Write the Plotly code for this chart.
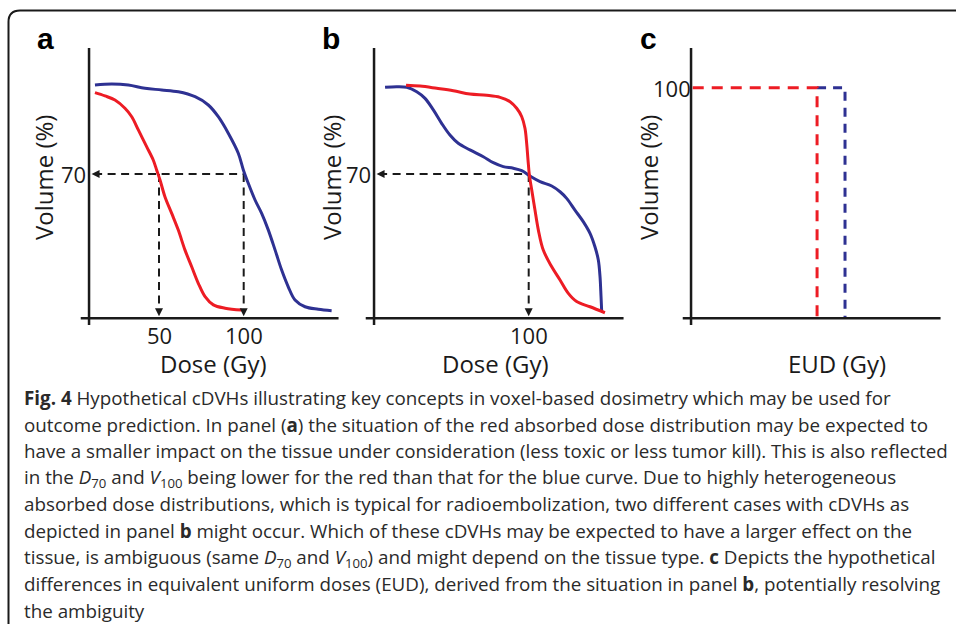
import plotly.graph_objects as go

W, H = 956, 624

# ---------------- data ----------------
# Panel a: cumulative DVHs (dose in Gy, volume in %)
a_blue_dose = [12.2, 22.1, 31.9, 41.7, 51.6, 61.4, 71.3, 79.1, 85.0, 90.9, 96.8, 99.8, 102.7,
               106.7, 110.6, 114.5, 118.5, 122.4, 126.3, 130.3, 136.2, 144.0, 151.9]
a_blue_vol = [113.2, 113.7, 113.2, 111.6, 110.8, 109.9, 107.5, 103.5, 97.8, 89.8, 80.1, 72.0, 65.5,
              57.4, 50.9, 42.9, 33.2, 23.4, 15.3, 8.9, 5.6, 4.4, 3.7]
a_red_dose = [12.2, 18.1, 24.0, 29.9, 33.9, 37.8, 42.7, 46.6, 48.6, 50.6, 53.5, 57.5, 61.4,
              65.3, 69.3, 73.2, 77.2, 82.1, 89.0, 98.8]
a_red_vol = [109.5, 107.9, 105.9, 101.9, 97.8, 91.4, 83.3, 76.8, 72.0, 67.1, 59.0, 50.9, 42.8,
             33.2, 25.0, 17.0, 10.5, 6.5, 4.9, 4.0]

# Panel b
b_blue_dose = [15.2, 22.1, 28.0, 33.9, 38.8, 43.7, 48.6, 53.5, 58.4, 65.3, 73.2, 79.1, 85.0, 90.9,
               95.9, 100.8, 106.7, 113.6, 118.5, 122.4, 127.3, 132.2, 136.2, 139.1, 141.1, 142.1,
               142.7, 143.1]
b_blue_vol = [112.1, 112.4, 112.1, 109.9, 106.7, 101.1, 94.6, 88.9, 84.9, 81.7, 78.4, 75.5, 73.6, 72.8,
              71.6, 69.0, 66.3, 64.2, 61.4, 58.2, 52.5, 46.9, 41.2, 34.7, 28.3, 20.2, 10.5, 3.2]
b_red_dose = [27.6, 35.9, 45.7, 55.5, 65.3, 75.2, 83.1, 89.0, 92.9, 95.9, 97.8, 98.8, 99.6, 100.4,
              101.8, 103.7, 105.7, 108.6, 113.6, 118.5, 123.4, 128.3, 136.2, 145.0]
b_red_vol = [113.1, 112.7, 111.6, 110.4, 108.8, 108.2, 107.2, 105.1, 101.9, 97.8, 92.2, 84.9, 76.8, 69.5,
             62.2, 52.5, 42.8, 33.1, 25.0, 18.6, 12.1, 8.1, 5.6, 2.7]

# reference levels
v_ref = 70
a_d70_red, a_d70_blue = 50, 100
b_d70 = 100

# Panel c: equivalent uniform doses
eud_red, eud_blue = 83.1, 99.6
c_vol = 100

tick_a = [50, 100]
tick_b = [100]

# ---------------- styling / layout helpers ----------------
RED = "#ED1C24"
BLUE = "#2E3192"
BLACK = "#1a1a1a"
AX0 = 8.7          # dose at which the y axis crosses
XR = [0, 165]
K_X = 1.694        # px per Gy
K_Y_AB = 2.061     # px per % (panels a, b)
K_Y_C = 2.306      # px per % (panel c)
Y0_PX = 318.3


def xdom(px_zero):
    return [(px_zero + K_X * XR[0]) / W, min(1.0, (px_zero + K_X * XR[1]) / W)]


def ydom(k, r):
    return [1 - (Y0_PX - k * r[0]) / H, 1 - (Y0_PX - k * r[1]) / H]


YR_AB = [-15, 140]
YR_C = [-15, 125]

fig = go.Figure()

dash = "8px,5.5px"

# Panel a dashed guides
fig.add_trace(go.Scatter(x=[AX0 + 3, a_d70_blue], y=[v_ref, v_ref], mode="lines",
                         line=dict(color=BLACK, width=2, dash=dash), xaxis="x", yaxis="y"))
for d in [a_d70_red, a_d70_blue]:
    fig.add_trace(go.Scatter(x=[d, d], y=[v_ref, 3], mode="lines",
                             line=dict(color=BLACK, width=2, dash=dash), xaxis="x", yaxis="y"))
# Panel a curves
fig.add_trace(go.Scatter(x=a_blue_dose, y=a_blue_vol, mode="lines", line=dict(color=BLUE, width=3, shape="spline"),
                         xaxis="x", yaxis="y"))
fig.add_trace(go.Scatter(x=a_red_dose, y=a_red_vol, mode="lines", line=dict(color=RED, width=3, shape="spline"),
                         xaxis="x", yaxis="y"))

# Panel b dashed guides
fig.add_trace(go.Scatter(x=[AX0 + 3, b_d70], y=[v_ref, v_ref], mode="lines",
                         line=dict(color=BLACK, width=2, dash=dash), xaxis="x2", yaxis="y2"))
fig.add_trace(go.Scatter(x=[b_d70, b_d70], y=[v_ref, 3], mode="lines",
                         line=dict(color=BLACK, width=2, dash=dash), xaxis="x2", yaxis="y2"))
fig.add_trace(go.Scatter(x=b_blue_dose, y=b_blue_vol, mode="lines", line=dict(color=BLUE, width=3, shape="spline"),
                         xaxis="x2", yaxis="y2"))
fig.add_trace(go.Scatter(x=b_red_dose, y=b_red_vol, mode="lines", line=dict(color=RED, width=3, shape="spline"),
                         xaxis="x2", yaxis="y2"))

# Arrow heads as markers (tip at the data point)
fig.add_trace(go.Scatter(x=[AX0 + 1.5], y=[v_ref], mode="markers", xaxis="x", yaxis="y",
                         marker=dict(symbol="arrow-left", size=8, color=BLACK)))
fig.add_trace(go.Scatter(x=[AX0 + 1.5], y=[v_ref], mode="markers", xaxis="x2", yaxis="y2",
                         marker=dict(symbol="arrow-left", size=8, color=BLACK)))
fig.add_trace(go.Scatter(x=[a_d70_red, a_d70_blue], y=[1.0, 1.0], mode="markers", xaxis="x", yaxis="y",
                         marker=dict(symbol="arrow-down", size=8, color=BLACK)))
fig.add_trace(go.Scatter(x=[b_d70], y=[1.0], mode="markers", xaxis="x2", yaxis="y2",
                         marker=dict(symbol="arrow-down", size=8, color=BLACK)))

# Panel c EUD step lines
fig.add_trace(go.Scatter(x=[eud_red, eud_blue, eud_blue], y=[c_vol, c_vol, 0], mode="lines",
                         line=dict(color=BLUE, width=3, dash="9px,7px"), xaxis="x3", yaxis="y3"))
fig.add_trace(go.Scatter(x=[AX0 + 1, eud_red, eud_red], y=[c_vol, c_vol, 0], mode="lines",
                         line=dict(color=RED, width=3, dash="11px,8px"), xaxis="x3", yaxis="y3"))

# Axis lines (cross-shaped, drawn in data coordinates)
shapes = []
for xa, ya, k in [("x", "y", K_Y_AB), ("x2", "y2", K_Y_AB), ("x3", "y3", K_Y_C)]:
    ytop = (Y0_PX - 48) / k
    ybot = (Y0_PX - 325) / k
    shapes.append(dict(type="line", xref=xa, yref=ya, x0=AX0, x1=AX0, y0=ybot, y1=ytop,
                       line=dict(color=BLACK, width=2.5)))
    shapes.append(dict(type="line", xref=xa, yref=ya, x0=3.8, x1=156, y0=0, y1=0,
                       line=dict(color=BLACK, width=2.5)))


def px(x):
    return x / W


def py(y):
    return 1 - y / H


# Figure border with rounded top-left corner
border = (f"M {px(8.5)},{py(624)} L {px(8.5)},{py(22)} Q {px(8.5)},{py(10.5)} {px(20)},{py(10.5)} "
          f"L {px(956)},{py(10.5)}")
shapes.append(dict(type="path", xref="paper", yref="paper", path=border,
                   line=dict(color=BLACK, width=2)))

annotations = []
TF = dict(family="Open Sans", size=22, color=BLACK)
TTF = dict(family="Open Sans", size=24, color=BLACK)

# tick labels
for xa, ya in [("x", "y"), ("x2", "y2")]:
    annotations.append(dict(xref=xa, yref=ya, x=AX0, y=v_ref, text=str(v_ref), showarrow=False,
                            xanchor="right", yanchor="middle", xshift=-1, font=TF))
for t in tick_a:
    annotations.append(dict(xref="x", yref="y", x=t, y=(Y0_PX - 335) / K_Y_AB, text=str(t), showarrow=False,
                            xanchor="center", yanchor="middle", font=TF))
for t in tick_b:
    annotations.append(dict(xref="x2", yref="y2", x=t, y=(Y0_PX - 335) / K_Y_AB, text=str(t), showarrow=False,
                            xanchor="center", yanchor="middle", font=TF))
annotations.append(dict(xref="x3", yref="y3", x=AX0, y=c_vol, text="100", showarrow=False,
                        xanchor="right", yanchor="middle", xshift=2, font=TF))

# axis titles
for cx in [43, 331, 648]:
    annotations.append(dict(xref="paper", yref="paper", x=px(cx), y=py(178), text="Volume (%)",
                            showarrow=False, textangle=-90, xanchor="center", yanchor="middle", font=TTF))
for cx, t in [(213, "Dose (Gy)"), (495, "Dose (Gy)"), (837, "EUD (Gy)")]:
    annotations.append(dict(xref="paper", yref="paper", x=px(cx), y=py(363), text=t,
                            showarrow=False, xanchor="center", yanchor="middle", font=TTF))

# panel letters
for cx, t in [(45, "a"), (331, "b"), (648, "c")]:
    annotations.append(dict(xref="paper", yref="paper", x=px(cx), y=py(38), text=f"<b>{t}</b>",
                            showarrow=False, xanchor="center", yanchor="middle",
                            font=dict(family="Liberation Sans, Arial", size=30, color="#000")))

# caption
caption = [
    "<b>Fig. 4</b> Hypothetical cDVHs illustrating key concepts in voxel-based dosimetry which may be used for",
    "outcome prediction. In panel (<b>a</b>) the situation of the red absorbed dose distribution may be expected to",
    "have a smaller impact on the tissue under consideration (less toxic or less tumor kill). This is also reflected",
    "in the <i>D</i><sub>70</sub> and <i>V</i><sub>100</sub> being lower for the red than that for the blue curve. Due to highly heterogeneous",
    "absorbed dose distributions, which is typical for radioembolization, two different cases with cDVHs as",
    "depicted in panel <b>b</b> might occur. Which of these cDVHs may be expected to have a larger effect on the",
    "tissue, is ambiguous (same <i>D</i><sub>70</sub> and <i>V</i><sub>100</sub>) and might depend on the tissue type. <b>c</b> Depicts the hypothetical",
    "differences in equivalent uniform doses (EUD), derived from the situation in panel <b>b</b>, potentially resolving",
    "the ambiguity",
]
for i, line in enumerate(caption):
    annotations.append(dict(xref="paper", yref="paper", x=px(22), y=py(398 + i * 26.6), text=line,
                            showarrow=False, xanchor="left", yanchor="middle",
                            font=dict(family="Open Sans", size=18.8, color="#2a2a2a")))

ax_hidden = dict(visible=False, fixedrange=True)
fig.update_layout(
    width=W, height=H, margin=dict(l=0, r=0, t=0, b=0),
    paper_bgcolor="white", plot_bgcolor="rgba(0,0,0,0)", showlegend=False,
    xaxis=dict(domain=xdom(74.3), range=XR, anchor="y", **ax_hidden),
    yaxis=dict(domain=ydom(K_Y_AB, YR_AB), range=YR_AB, anchor="x", **ax_hidden),
    xaxis2=dict(domain=xdom(359.3), range=XR, anchor="y2", **ax_hidden),
    yaxis2=dict(domain=ydom(K_Y_AB, YR_AB), range=YR_AB, anchor="x2", **ax_hidden),
    xaxis3=dict(domain=xdom(676.3), range=XR, anchor="y3", **ax_hidden),
    yaxis3=dict(domain=ydom(K_Y_C, YR_C), range=YR_C, anchor="x3", **ax_hidden),
    shapes=shapes, annotations=annotations,
)

fig.write_html("out.html", config={"displayModeBar": False, "staticPlot": True},
               post_script="document.body.style.margin='0';document.body.style.padding='0';")
